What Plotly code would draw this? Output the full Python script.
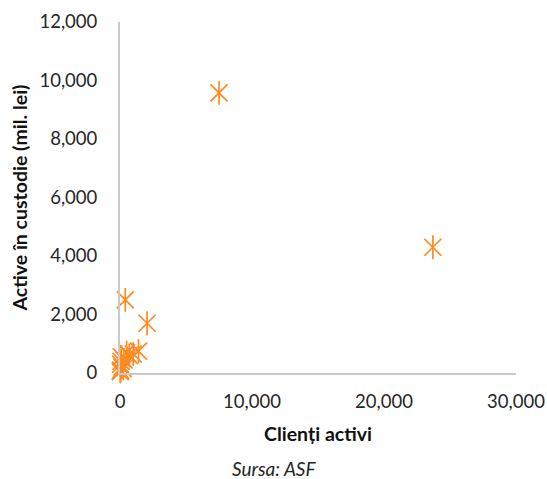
import plotly.graph_objects as go

# Active clients vs. assets under custody (mil. lei), per custodian
clienti_activi = [7500, 23700, 400, 2050, 1400, 1000, 700, 500, 300, 100, 50, 150, 50, 20, 250, 80]
active_custodie = [9580, 4300, 2500, 1700, 750, 650, 600, 700, 450, 550, 300, 200, 100, 50, 150, 400]

x_ticks = [0, 10000, 20000, 30000]
y_ticks = [0, 2000, 4000, 6000, 8000, 10000, 12000]

ORANGE = "#FF8A1F"
AXIS_GREY = "#C9C9C9"
TEXT = "#262626"
TITLE = "#111111"
FONT = "Lato"

fig = go.Figure()
# asterisk marker: an X with a vertical stroke through it
for sym in ["x-thin-open", "line-ns-open"]:
    fig.add_trace(go.Scatter(
        x=clienti_activi, y=active_custodie, mode="markers",
        marker=dict(symbol=sym, size=17, color=ORANGE,
                    line=dict(color=ORANGE, width=1.7)),
        cliponaxis=False, showlegend=False, hoverinfo="x+y",
    ))

fig.update_layout(
    width=547, height=479, autosize=False,
    margin=dict(l=120, r=31, t=22, b=106, autoexpand=False),
    paper_bgcolor="white", plot_bgcolor="white",
    font=dict(family=FONT, size=18.5, color=TEXT),
    xaxis=dict(
        range=[0, 30000], tickvals=x_ticks, tickformat=",d",
        showgrid=False, zeroline=False, automargin=False,
        showline=True, linecolor=AXIS_GREY, linewidth=2,
        ticks="", ticklabelstandoff=11,
        title=dict(text="<b>Clienți activi</b>", standoff=16,
                   font=dict(family=FONT, size=19.5, color=TITLE)),
    ),
    yaxis=dict(
        range=[0, 12000], tickvals=y_ticks, tickformat=",d",
        showgrid=False, zeroline=False, automargin=False,
        showline=True, linecolor=AXIS_GREY, linewidth=2,
        ticks="", ticklabelstandoff=17,
        title=dict(text="<b>Active în custodie (mil. lei)</b>", standoff=7,
                   font=dict(family=FONT, size=19.5, color=TITLE)),
    ),
    annotations=[dict(
        text="<i>Sursa: ASF</i>", xref="paper", yref="paper",
        x=0.388, y=-0.272, xanchor="center", yanchor="middle",
        borderpad=0,
        showarrow=False, font=dict(family=FONT, size=19, color=TEXT),
    )],
)

fig.write_html("out.html", config={"responsive": False, "displayModeBar": False})
